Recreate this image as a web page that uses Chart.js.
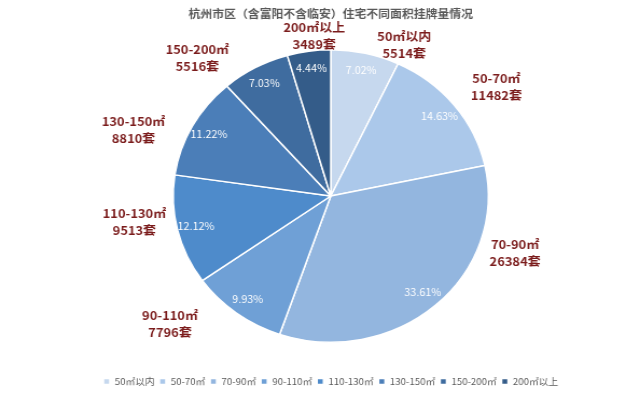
<!DOCTYPE html>
<html>
<head>
<meta charset="utf-8">
<script src="https://cdn.jsdelivr.net/npm/chart.js"></script>
<style>
  html, body { margin: 0; padding: 0; background: #fff; }
</style>
</head>
<body>
<canvas id="pie" width="594" height="393" style="display:block;width:640px;height:393px"></canvas>
<script>
// data
const categories = ['50㎡以内', '50-70㎡', '70-90㎡', '90-110㎡', '110-130㎡', '130-150㎡', '150-200㎡', '200㎡以上'];
const counts = [5514, 11482, 26384, 7796, 9513, 8810, 5516, 3489];
const unit = '套';
const titleText = '杭州市区（含富阳不含临安）住宅不同面积挂牌量情况';

// style
const colors = ['#c6d8ee', '#abc8ea', '#93b6df', '#6fa0d6', '#4e8bcb', '#4b7eb8', '#3f6c9f', '#345c89'];
const FONT = '"Noto Sans CJK SC", "Noto Sans", sans-serif';
// outer label placement: [angle shift from slice middle (deg), distance from centre (px)]
const labelPlace = [[11.6, 166], [2.8, 189], [-30.3, 180], [12.8, 196], [5.7, 184], [-8.4, 195], [-13.1, 186], [2.5, 161]];

const total = counts.reduce((a, b) => a + b, 0);

const sliceLabels = {
  id: 'sliceLabels',
  afterDatasetsDraw(chart) {
    const ctx = chart.ctx;
    const meta = chart.getDatasetMeta(0);
    ctx.save();
    ctx.textAlign = 'center';
    ctx.textBaseline = 'middle';
    meta.data.forEach((arc, i) => {
      const p = arc.getProps(['x', 'y', 'startAngle', 'endAngle', 'outerRadius'], true);
      const mid = (p.startAngle + p.endAngle) / 2;
      // percentage inside
      const r = p.outerRadius * 0.88;
      ctx.fillStyle = '#ffffff';
      ctx.font = '10px ' + FONT;
      ctx.fillText((counts[i] / total * 100).toFixed(2) + '%', p.x + Math.cos(mid) * r, p.y + Math.sin(mid) * r);
      // category + count outside
      const a = mid + labelPlace[i][0] * Math.PI / 180;
      const d = labelPlace[i][1];
      const lx = p.x + Math.cos(a) * d;
      const ly = p.y + Math.sin(a) * d;
      ctx.fillStyle = '#7b1c1c';
      ctx.font = 'bold 12px ' + FONT;
      ctx.fillText(categories[i], lx, ly - 8);
      ctx.fillText(counts[i] + unit, lx, ly + 9);
    });
    ctx.restore();
  }
};

new Chart(document.getElementById('pie'), {
  type: 'pie',
  data: {
    labels: categories,
    datasets: [{
      data: counts,
      backgroundColor: colors,
      borderColor: '#ffffff',
      borderWidth: 1.5
    }]
  },
  options: {
    responsive: false,
    animation: false,
    devicePixelRatio: 1,
    layout: { padding: { left: 20, right: 0, top: 0, bottom: -3 } },
    plugins: {
      title: {
        display: true,
        text: titleText,
        color: '#595959',
        font: { family: FONT, size: 11, weight: 'bold', lineHeight: 1.2 },
        padding: { top: 7, bottom: 28.8 }
      },
      legend: {
        position: 'bottom',
        title: {
          display: true,
          text: ' ',
          font: { size: 10, lineHeight: 1.2 },
          padding: { top: 17.5, bottom: 0 }
        },
        labels: {
          boxWidth: 6,
          boxHeight: 6,
          padding: 4.5,
          color: '#595959',
          font: { family: FONT, size: 9 }
        }
      },
      tooltip: { enabled: false }
    }
  },
  plugins: [sliceLabels]
});
</script>
</body>
</html>
